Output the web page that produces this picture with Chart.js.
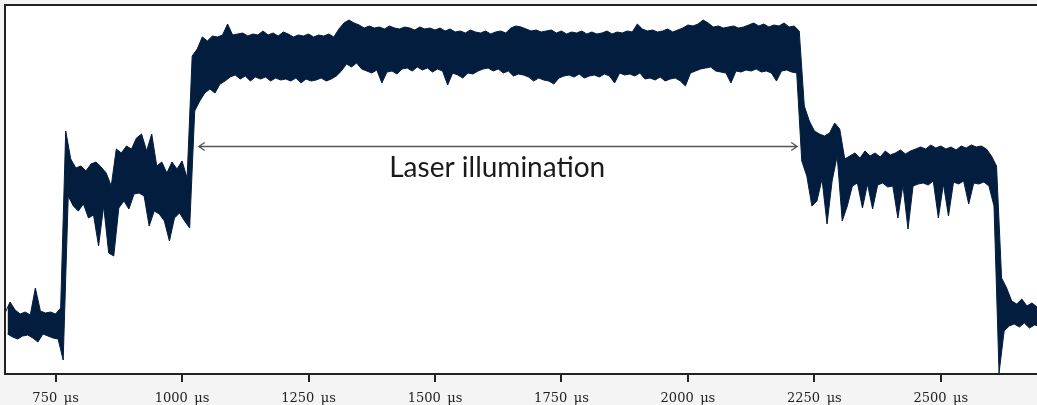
<!DOCTYPE html>
<html><head><meta charset="utf-8">
<script src="https://cdn.jsdelivr.net/npm/chart.js@4"></script>
<style>html,body{margin:0;padding:0;background:#f4f4f4;}#wrap{width:1037px;height:405px;position:relative;}</style>
</head><body><div id="wrap"><canvas id="c"></canvas></div>
<script>
// time bins (µs): each bin holds the highest and lowest signal
const binStart = 650;
const binStep = 10;
const upper = [
61,72,64,60,62,59,86,63,61,62,60,66,
243,215,206,208,203,210,212,207,201,188,225,221,228,225,236,240,223,240,208,212,201,212,205,213,196,318,
325,337,333,338,337,339,350,339,340,341,
338,340,339,343,339,341,338,342,340,337,
339,338,340,337,339,338,340,337,345,351,
354,351,349,346,348,346,347,345,348,346,
345,347,346,344,347,345,346,344,346,343,
345,342,343,341,344,342,341,343,340,342,
343,341,346,348,347,345,343,344,342,343,
344,341,343,340,342,341,343,340,342,340,
341,343,340,342,341,343,342,350,345,343,
344,342,343,345,342,344,346,349,348,350,
354,351,347,348,346,347,348,346,347,349,
351,348,350,347,349,348,351,347,348,343,
268,253,243,240,238,241,251,245,215,218,
221,216,223,218,221,217,223,219,221,224,
220,223,225,227,225,229,226,228,225,227,
224,228,226,229,227,228,225,218,208,96,
86,73,70,75,68,71,67
];
const lower = [
40,37,35,38,39,36,32,40,38,36,35,14,
178,168,163,170,156,159,128,168,121,118,166,173,165,180,181,178,148,163,160,153,133,156,161,153,146,263,
273,281,285,281,290,293,297,299,295,298,
293,297,295,297,293,296,294,295,293,296,
291,295,293,294,296,293,295,298,303,310,
307,311,305,303,301,304,291,302,303,300,
305,306,303,307,304,306,302,305,303,289,
301,299,296,301,300,303,305,306,303,305,
301,303,298,300,299,297,293,296,294,293,
290,296,298,299,297,300,296,298,299,297,
300,298,291,301,299,300,298,301,295,296,
294,297,293,295,296,293,288,301,303,305,
306,307,303,302,301,291,303,302,304,303,
305,302,303,301,293,303,304,302,301,213,
198,168,173,195,150,193,218,153,168,188,
191,166,190,165,189,191,187,188,156,189,
145,188,190,191,189,193,156,190,158,192,
190,193,170,191,190,192,188,168,1,43,
48,50,47,51,46,49,48
];
const tickValues = [750,1000,1250,1500,1750,2000,2250,2500];
const tickUnit = 'μs';
const xMin = 650, xMax = 2690;
const annotationText = 'Laser illumination';
const arrowFrom = 1033, arrowTo = 2216, arrowLevel = 228;
const labelAt = 1623, labelLevel = 197;

const upperPts = upper.map((v, i) => ({x: binStart + i * binStep, y: v}));
const lowerPts = lower.map((v, i) => ({x: binStart + i * binStep + binStep / 2, y: v}));
const navy = '#031d3e';

const decor = {
  id: 'decor',
  beforeDraw(chart) {
    const {ctx, chartArea: a} = chart;
    ctx.save();
    ctx.fillStyle = '#ffffff';
    ctx.fillRect(a.left, a.top, a.right - a.left, a.bottom - a.top);
    ctx.restore();
  },
  afterDatasetsDraw(chart) {
    const {ctx, scales: {x, y}} = chart;
    const x1 = x.getPixelForValue(arrowFrom), x2 = x.getPixelForValue(arrowTo);
    const yy = Math.round(y.getPixelForValue(arrowLevel)) + 0.5;
    ctx.save();
    ctx.strokeStyle = '#555555';
    ctx.lineWidth = 1.3;
    ctx.beginPath();
    ctx.moveTo(x1, yy); ctx.lineTo(x2, yy);
    ctx.moveTo(x1 + 6, yy - 4); ctx.lineTo(x1, yy); ctx.lineTo(x1 + 6, yy + 4);
    ctx.moveTo(x2 - 6, yy - 4); ctx.lineTo(x2, yy); ctx.lineTo(x2 - 6, yy + 4);
    ctx.stroke();
    ctx.fillStyle = '#1a1a1a';
    ctx.font = '28px Lato';
    ctx.textAlign = 'center';
    ctx.textBaseline = 'alphabetic';
    ctx.fillText(annotationText, x.getPixelForValue(labelAt), y.getPixelForValue(labelLevel));
    ctx.restore();
  },
  afterDraw(chart) {
    const {ctx, chartArea: a} = chart;
    ctx.save();
    ctx.strokeStyle = '#222222';
    ctx.lineWidth = 2;
    ctx.beginPath();
    ctx.moveTo(a.left, a.bottom); ctx.lineTo(a.left, a.top); ctx.lineTo(a.right, a.top);
    ctx.stroke();
    ctx.restore();
  }
};

new Chart(document.getElementById('c'), {
  type: 'line',
  data: {datasets: [
    {data: upperPts, borderColor: navy, borderWidth: 1, pointRadius: 0, tension: 0, fill: false},
    {data: lowerPts, borderColor: navy, borderWidth: 1, pointRadius: 0, tension: 0, fill: '-1', backgroundColor: navy}
  ]},
  options: {
    responsive: true,
    maintainAspectRatio: false,
    animation: false,
    layout: {padding: {left: 5, top: 5, right: 0, bottom: -10}},
    plugins: {legend: {display: false}, tooltip: {enabled: false}},
    scales: {
      x: {
        type: 'linear', min: xMin, max: xMax,
        afterBuildTicks: s => { s.ticks = tickValues.map(v => ({value: v})); },
        ticks: {
          autoSkip: false, maxRotation: 0, padding: 10, color: '#222222',
          font: {family: 'DejaVu Serif', size: 13, lineHeight: 1},
          callback: v => v + '\u2002' + tickUnit
        },
        grid: {display: true, drawOnChartArea: false, drawTicks: true, tickLength: 8, color: '#222222', lineWidth: 2},
        border: {display: true, color: '#222222', width: 2}
      },
      y: {display: false, min: 0, max: 369}
    }
  },
  plugins: [decor]
});
</script>
</body></html>
